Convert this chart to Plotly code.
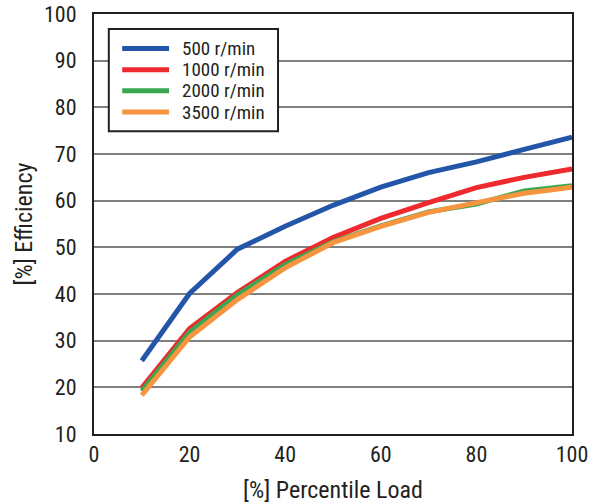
import plotly.graph_objects as go

FONT_FAMILY = 'Liberation Sans Narrow, Arial Narrow, Roboto Condensed, sans-serif'

load = [10, 20, 30, 40, 50, 60, 70, 80, 90, 100]
eff_500 = [25.7, 40.1, 49.6, 54.5, 59.0, 62.9, 66.0, 68.3, 71.0, 73.6]
eff_1000 = [19.9, 32.6, 40.3, 47.0, 52.1, 56.2, 59.6, 62.8, 65.0, 66.8]
eff_2000 = [19.2, 31.8, 39.8, 46.3, 51.2, 54.6, 57.6, 59.3, 62.1, 63.2]
eff_3500 = [18.3, 30.8, 38.8, 45.6, 51.0, 54.5, 57.5, 59.6, 61.6, 62.9]

series = [
    ('500 r/min', eff_500, '#2356a8'),
    ('1000 r/min', eff_1000, '#ee2a2e'),
    ('2000 r/min', eff_2000, '#3aa651'),
    ('3500 r/min', eff_3500, '#f7943f'),
]

fig = go.Figure()
for name, vals, color in series:
    fig.add_trace(go.Scatter(
        x=load, y=vals, name=name, mode='lines',
        line=dict(color=color, width=5)
    ))

# legend drawn by hand so rows sit as tight as in the original
fig.add_shape(type='rect', xref='paper', yref='paper',
              x0=0.031, x1=0.385, y0=0.721, y1=0.964,
              line=dict(color='#231f20', width=2), fillcolor='white', layer='above')
for i, (name, vals, color) in enumerate(series):
    yy = 0.918 - i * 0.0505
    fig.add_shape(type='line', xref='paper', yref='paper',
                  x0=0.059, x1=0.157, y0=yy, y1=yy,
                  line=dict(color=color, width=5), layer='above')
    fig.add_annotation(xref='paper', yref='paper', x=0.180, y=yy,
                       xanchor='left', yanchor='middle', showarrow=False,
                       text=name, font=dict(size=19))

fig.update_layout(
    width=598, height=504,
    margin=dict(l=94, r=26, t=14, b=70, autoexpand=False),
    paper_bgcolor='white', plot_bgcolor='white',
    font=dict(family=FONT_FAMILY, size=22, color='#231f20'),
    showlegend=False,
    xaxis=dict(
        range=[0, 100], dtick=20, showgrid=False,
        showline=True, linecolor='#231f20', linewidth=2, mirror=True,
        ticks='', ticklen=0, ticklabeloverflow='allow',
        title=dict(text='[%] Percentile Load', font=dict(size=24), standoff=15),
    ),
    yaxis=dict(
        range=[10, 100], dtick=10, showgrid=True, gridcolor='#7f7f7f', gridwidth=1.5,
        showline=True, linecolor='#231f20', linewidth=2, mirror=True,
        ticks='', zeroline=False, ticklabelstandoff=11, ticklabeloverflow='allow',
        title=dict(text='[%] Efficiency', font=dict(size=24), standoff=5),
    ),
)

# page body has an 8px default margin; drop it so the figure sits at 0,0
fig.write_html("out.html", config={'displayModeBar': False},
               post_script="document.body.style.margin = '0';")
